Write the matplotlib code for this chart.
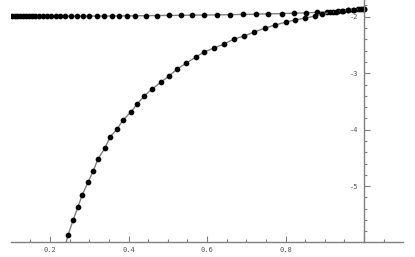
import matplotlib.pyplot as plt
from matplotlib.ticker import MultipleLocator, FixedLocator

# upper series (nearly flat, close to -2)
x_top = [0.103, 0.111, 0.116, 0.124, 0.131, 0.139, 0.147, 0.154, 0.162, 0.172,
         0.182, 0.192, 0.203, 0.215, 0.226, 0.238, 0.254, 0.269, 0.284, 0.299,
         0.320, 0.338, 0.358, 0.376, 0.396, 0.417, 0.445, 0.473, 0.503, 0.534,
         0.562, 0.592, 0.626, 0.659, 0.692, 0.725, 0.755, 0.791, 0.822, 0.852,
         0.880, 0.906, 0.921, 0.934, 0.947, 0.959, 0.972, 0.985, 0.995, 1.0]
y_top = [-1.995, -1.995, -1.995, -1.995, -1.995, -1.994, -1.994, -1.994, -1.994, -1.993,
         -1.993, -1.993, -1.992, -1.992, -1.992, -1.991, -1.991, -1.990, -1.990, -1.989,
         -1.988, -1.987, -1.986, -1.985, -1.984, -1.983, -1.981, -1.979, -1.977, -1.975,
         -1.973, -1.970, -1.967, -1.963, -1.959, -1.955, -1.950, -1.944, -1.938, -1.931,
         -1.923, -1.914, -1.908, -1.902, -1.896, -1.889, -1.881, -1.872, -1.864, -1.858]

# lower series (rising curve)
x_low = [0.235, 0.246, 0.259, 0.271, 0.282, 0.297, 0.310, 0.322, 0.340, 0.353,
         0.371, 0.386, 0.406, 0.422, 0.440, 0.460, 0.483, 0.503, 0.524, 0.547,
         0.572, 0.592, 0.618, 0.643, 0.669, 0.694, 0.720, 0.748, 0.773, 0.801,
         0.824, 0.850, 0.875, 0.893, 0.913, 0.929, 0.944, 0.959, 0.975, 0.990, 1.0]
y_low = [-6.15, -5.864, -5.598, -5.368, -5.156, -4.926, -4.731, -4.519, -4.324, -4.129,
         -3.988, -3.828, -3.687, -3.545, -3.404, -3.280, -3.156, -3.050, -2.926, -2.820,
         -2.713, -2.625, -2.554, -2.483, -2.395, -2.342, -2.271, -2.201, -2.147, -2.094,
         -2.058, -2.023, -1.988, -1.952, -1.925, -1.912, -1.899, -1.885, -1.874, -1.864, -1.855]

xticks = [0.2, 0.4, 0.6, 0.8]
yticks = [-5, -4, -3, -2]

fig = plt.figure(figsize=(4.15, 2.57), dpi=100)
ax = fig.add_axes([11 / 415, 15.3 / 257, 392 / 415, 241.7 / 257])

for xs, ys in [(x_top, y_top), (x_low, y_low)]:
    ax.plot(xs, ys, color='#808080', lw=1, marker='o', markersize=3.1,
            markerfacecolor='black', markeredgecolor='black', clip_on=True)

ax.set_xlim(0.1006, 1.099)
ax.set_ylim(-5.983, -1.704)

axis_color = '#808080'
for s in ['top', 'right']:
    ax.spines[s].set_visible(False)
ax.spines['bottom'].set_color(axis_color)
ax.spines['left'].set_color(axis_color)
ax.spines['left'].set_position(('data', 1.0))
ax.spines['bottom'].set_linewidth(1)
ax.spines['left'].set_linewidth(1)

ax.xaxis.set_major_locator(FixedLocator(xticks + [1.0]))
ax.set_xticklabels([str(t) for t in xticks] + [''])
ax.xaxis.set_minor_locator(MultipleLocator(0.05))
ax.yaxis.set_major_locator(FixedLocator(yticks))
ax.set_yticklabels([str(t) for t in yticks])
ax.yaxis.set_minor_locator(MultipleLocator(0.2))

ax.tick_params(which='both', direction='in', color=axis_color, width=0.8,
               labelsize=5, labelcolor='#555555')
ax.tick_params(which='major', length=4)
ax.tick_params(which='minor', length=2.5)
ax.tick_params(axis='x', pad=3.5)
ax.tick_params(axis='y', pad=4)
for lab in ax.get_xticklabels() + ax.get_yticklabels():
    lab.set_family('DejaVu Sans Mono')

fig.savefig('out.png', dpi=100)
